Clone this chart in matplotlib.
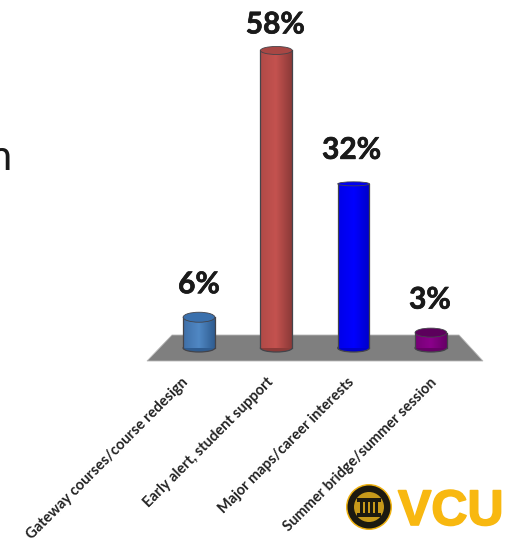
import numpy as np
import matplotlib
matplotlib.use('Agg')
import matplotlib.pyplot as plt
from matplotlib.colors import LinearSegmentedColormap
from matplotlib.patches import Circle, Ellipse, Polygon, Rectangle
from matplotlib.transforms import Affine2D
import matplotlib.patheffects as pe

categories = ['Gateway courses/course redesign',
              'Early alert, student support',
              'Major maps/career interests',
              'Summer bridge/summer session']
values = [6, 58, 32, 3]
value_labels = ['6%', '58%', '32%', '3%']

# light, mid and dark shade across each cylinder
shades = [('#3f6fa8', '#5088c4', '#2f5c90'),
          ('#b04a47', '#c4524f', '#8c3a38'),
          ('#0000e8', '#0000ff', '#0000c8'),
          ('#760076', '#8a008a', '#660066')]
cap_colors = ['#3a70ad', '#a84744', '#0000f0', '#5c005c']
cap_heights = [10, 8, 4, 9]
label_lift = [33, 26, 34, 33]
label_shift = [0, -1, -2, -1]
tick_shift = [-13, -5, -2, 4]

W, H = 505, 541
PER_UNIT = 5.13
BASE_Y = 348
X0, STEP = 199, 77.3
BAR_WIDTH = 0.41

fig = plt.figure(figsize=(W / 100, H / 100), dpi=100)
ax = fig.add_axes([0, 0, 1, 1])
ax.axis('off')
xlim = (-X0 / STEP, (W - X0) / STEP)
ylim = ((BASE_Y - H) / PER_UNIT, BASE_Y / PER_UNIT)

# pixel coordinates, origin top left, for the floor and the logo
px = Affine2D().scale(1 / W, -1 / H).translate(0, 1) + ax.transAxes

ax.add_patch(Polygon([(172, 335), (459, 335), (483, 361), (147, 361)],
                     closed=True, fc='#7f7f7f', ec='#b8b8b8', lw=0.6,
                     transform=px, zorder=1))

for i, v in enumerate(values):
    edge = '#44444a'
    # bottom rim of the cylinder
    ax.add_patch(Ellipse((i, 0), BAR_WIDTH, 8 / PER_UNIT, fc=shades[i][2],
                         ec=edge, lw=0.9, zorder=2))
    bar = ax.bar(i, v, width=BAR_WIDTH, color='none', ec='none', zorder=3)[0]
    cmap = LinearSegmentedColormap.from_list('cyl', shades[i])
    im = ax.imshow(np.linspace(0, 1, 64).reshape(1, -1), cmap=cmap, aspect='auto',
                   extent=(i - BAR_WIDTH / 2, i + BAR_WIDTH / 2, 0, v), zorder=3)
    im.set_clip_path(bar)
    ax.plot([i - BAR_WIDTH / 2] * 2, [0, v], color=edge, lw=0.9, zorder=4)
    ax.plot([i + BAR_WIDTH / 2] * 2, [0, v], color=edge, lw=0.9, zorder=4)
    ax.add_patch(Ellipse((i, v), BAR_WIDTH, cap_heights[i] / PER_UNIT,
                         fc=cap_colors[i], ec=edge, lw=0.6, zorder=5))
    txt = ax.annotate(value_labels[i], (i, v),
                      xytext=(label_shift[i] * 0.72, label_lift[i] * 0.72),
                      textcoords='offset points', ha='center', va='center',
                      fontsize=21.5, fontweight='bold', family='Lato', color='#1a1a1a')
    txt.set_path_effects([pe.withStroke(linewidth=0.5, foreground='#1a1a1a')])
    ax.annotate(categories[i], (i, 0), xytext=(tick_shift[i] * 0.72, -32 * 0.72),
                textcoords='offset points', ha='right', va='center',
                rotation=45, rotation_mode='anchor',
                fontsize=10.5, fontweight='bold', family='Lato', color='#222222')

ax.set_xlim(xlim)
ax.set_ylim(ylim)

# tail of a heading running off the left edge
ax.text(11, 170, 'n', transform=px, ha='right', va='baseline',
        fontsize=30, family='Lato', color='#1a1a1a')

# university seal and wordmark
cx, cy = 369, 507
ax.add_patch(Circle((cx, cy), 23, fc='#eeb111', ec='none', transform=px, zorder=6))
ax.add_patch(Circle((cx, cy), 21.5, fc='#1c1a10', ec='none', transform=px, zorder=6))
ax.add_patch(Circle((cx, cy), 15, fc='#c79a1a', ec='none', transform=px, zorder=6))
ax.add_patch(Rectangle((cx - 12, cy - 9), 24, 3.5, fc='#1c1a10', transform=px, zorder=7))
ax.add_patch(Rectangle((cx - 12, cy + 6), 24, 3.5, fc='#1c1a10', transform=px, zorder=7))
for dx in (-9, -4, 1, 6):
    ax.add_patch(Rectangle((cx + dx - 0.5, cy - 7), 3, 14, fc='#1c1a10',
                           transform=px, zorder=7))
logo = ax.text(398, 525, 'VCU', transform=px, ha='left', va='baseline',
               fontsize=36, fontweight='bold', family='Liberation Sans',
               color='#f8b810', zorder=7)
logo.set_path_effects([pe.withStroke(linewidth=1.2, foreground='#f8b810')])

fig.savefig('out.png', dpi=100)
